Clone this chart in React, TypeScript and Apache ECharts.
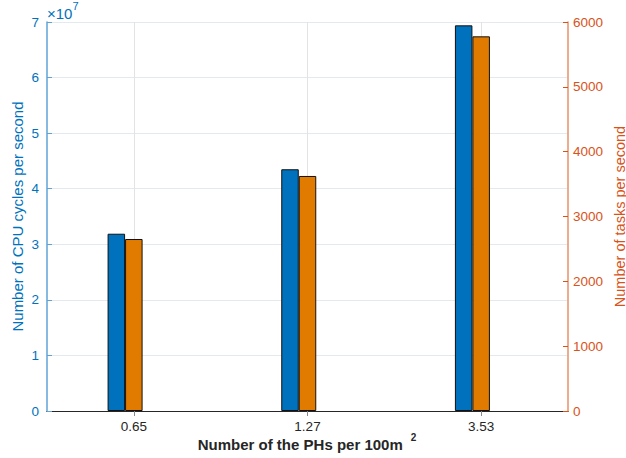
import React, { useEffect, useRef } from "react";
import * as echarts from "echarts";

const categories = ["0.65", "1.27", "3.53"];
const categoryPositions = [1, 2, 3];
const cpuCycles = [3.19e7, 4.35e7, 6.94e7];
const tasksPerSecond = [2653, 3625, 5779];
const leftTicks = [0, 1, 2, 3, 4, 5, 6, 7];

const FONT = "'Liberation Sans', Arial, Helvetica, sans-serif";
const BLUE = "#0072BD";
const ORANGE_TXT = "#D95319";
const ORANGE_BAR = "#E07B00";

export default function App() {
  const ref = useRef<HTMLDivElement>(null);
  useEffect(() => {
    const chart = echarts.init(ref.current!, null, { renderer: "svg" });
    const xMin = 0.5;
    const xMax = 3.5;
    chart.setOption({
      animation: false,
      textStyle: { fontFamily: FONT },
      grid: { left: 47, right: 58, top: 22, bottom: 47, containLabel: false, outerBoundsMode: "none" },
      xAxis: [
        {
          type: "value",
          min: xMin,
          max: xMax,
          position: "bottom",
          axisLine: { show: true, lineStyle: { color: "#b5643a", width: 1 } },
          axisTick: { show: true, inside: true, length: 5, customValues: categoryPositions, lineStyle: { color: "#666" } },
          axisLabel: {
            customValues: categoryPositions,
            formatter: (v: number) => categories[categoryPositions.indexOf(Math.round(v))] ?? "",
            color: "#262626",
            fontSize: 13.5,
            margin: 8,
            fontFamily: FONT,
          },
          splitLine: { show: true, lineStyle: { color: "#e3e3e3" } },
        },
        {
          type: "value",
          min: xMin,
          max: xMax,
          position: "top",
          axisLine: { show: true, lineStyle: { color: "#262626", width: 1 } },
          axisTick: { show: true, inside: true, length: 5, customValues: categoryPositions, lineStyle: { color: "#888" } },
          axisLabel: { show: false },
          splitLine: { show: false },
        },
      ],
      yAxis: [
        {
          type: "value",
          min: 0,
          max: 7e7,
          interval: 1e7,
          position: "left",
          name: "Number of CPU cycles per second",
          nameLocation: "middle",
          nameGap: 22,
          nameMoveOverlap: false,
          nameTextStyle: { color: BLUE, fontSize: 15, fontFamily: FONT },
          axisLine: { show: true, lineStyle: { color: "#5fa3d6", width: 1.5 } },
          axisTick: { show: true, inside: true, length: 5, lineStyle: { color: "#5fa3d6" } },
          axisLabel: {
            color: BLUE,
            fontSize: 13.5,
            margin: 8,
            fontFamily: FONT,
            formatter: (v: number) => String(leftTicks[Math.round(v / 1e7)] ?? ""),
          },
          splitLine: { show: true, lineStyle: { color: "#e4e9ef" } },
        },
        {
          type: "value",
          min: 0,
          max: 6000,
          interval: 1000,
          position: "right",
          name: "Number of tasks per second",
          nameLocation: "middle",
          nameGap: 44,
          nameMoveOverlap: false,
          nameRotate: 90,
          nameTextStyle: { color: ORANGE_TXT, fontSize: 14.5, fontFamily: FONT },
          axisLine: { show: true, lineStyle: { color: "#e8906a", width: 1.5 } },
          axisTick: { show: true, inside: true, length: 5, lineStyle: { color: ORANGE_TXT } },
          axisLabel: {
            color: ORANGE_TXT,
            fontSize: 13.5,
            margin: 5,
            fontFamily: FONT,
            formatter: (v: number) => String(v),
          },
          splitLine: { show: false },
        },
      ],
      series: [
        {
          type: "bar",
          name: "CPU cycles",
          xAxisIndex: 0,
          yAxisIndex: 0,
          barWidth: 17.5,
          barGap: "0%",
          data: categoryPositions.map((x, i) => [x, cpuCycles[i]]),
          itemStyle: { color: BLUE, borderColor: "#111", borderWidth: 1 },
        },
        {
          type: "bar",
          name: "Tasks",
          xAxisIndex: 0,
          yAxisIndex: 1,
          barWidth: 17.5,
          barGap: "0%",
          data: categoryPositions.map((x, i) => [x, tasksPerSecond[i]]),
          itemStyle: { color: ORANGE_BAR, borderColor: "#111", borderWidth: 1 },
        },
        {
          type: "bar",
          name: "spacer",
          xAxisIndex: 0,
          yAxisIndex: 1,
          barWidth: 17.5,
          barGap: "0%",
          silent: true,
          data: [],
        },
      ],
      graphic: [
        {
          type: "text",
          left: 47,
          top: 0,
          style: {
            text: "{a|×10}{b|7}",
            rich: {
              a: { fontSize: 15, fill: BLUE, fontFamily: FONT, verticalAlign: "bottom", padding: [6, 0, 0, 0] },
              b: { fontSize: 11, fill: BLUE, fontFamily: FONT, verticalAlign: "top" },
            },
          },
        },
        {
          type: "text",
          x: 307,
          y: 432,
          style: {
            text: "{a|Number of the PHs per 100m}{b|2}",
            align: "center",
            verticalAlign: "top",
            rich: {
              a: { fontSize: 15, fontWeight: "bold", fill: "#262626", fontFamily: FONT, verticalAlign: "bottom", padding: [5, 0, 0, 0] },
              b: { fontSize: 10, fontWeight: "bold", fill: "#262626", fontFamily: FONT, verticalAlign: "top", padding: [0, 0, 0, 8] },
            },
          },
        },
      ],
    });
    return () => chart.dispose();
  }, []);
  return (
    <div
      ref={ref}
      style={{ position: "fixed", left: 0, top: 0, width: 626, height: 458, background: "#fff" }}
    />
  );
}
